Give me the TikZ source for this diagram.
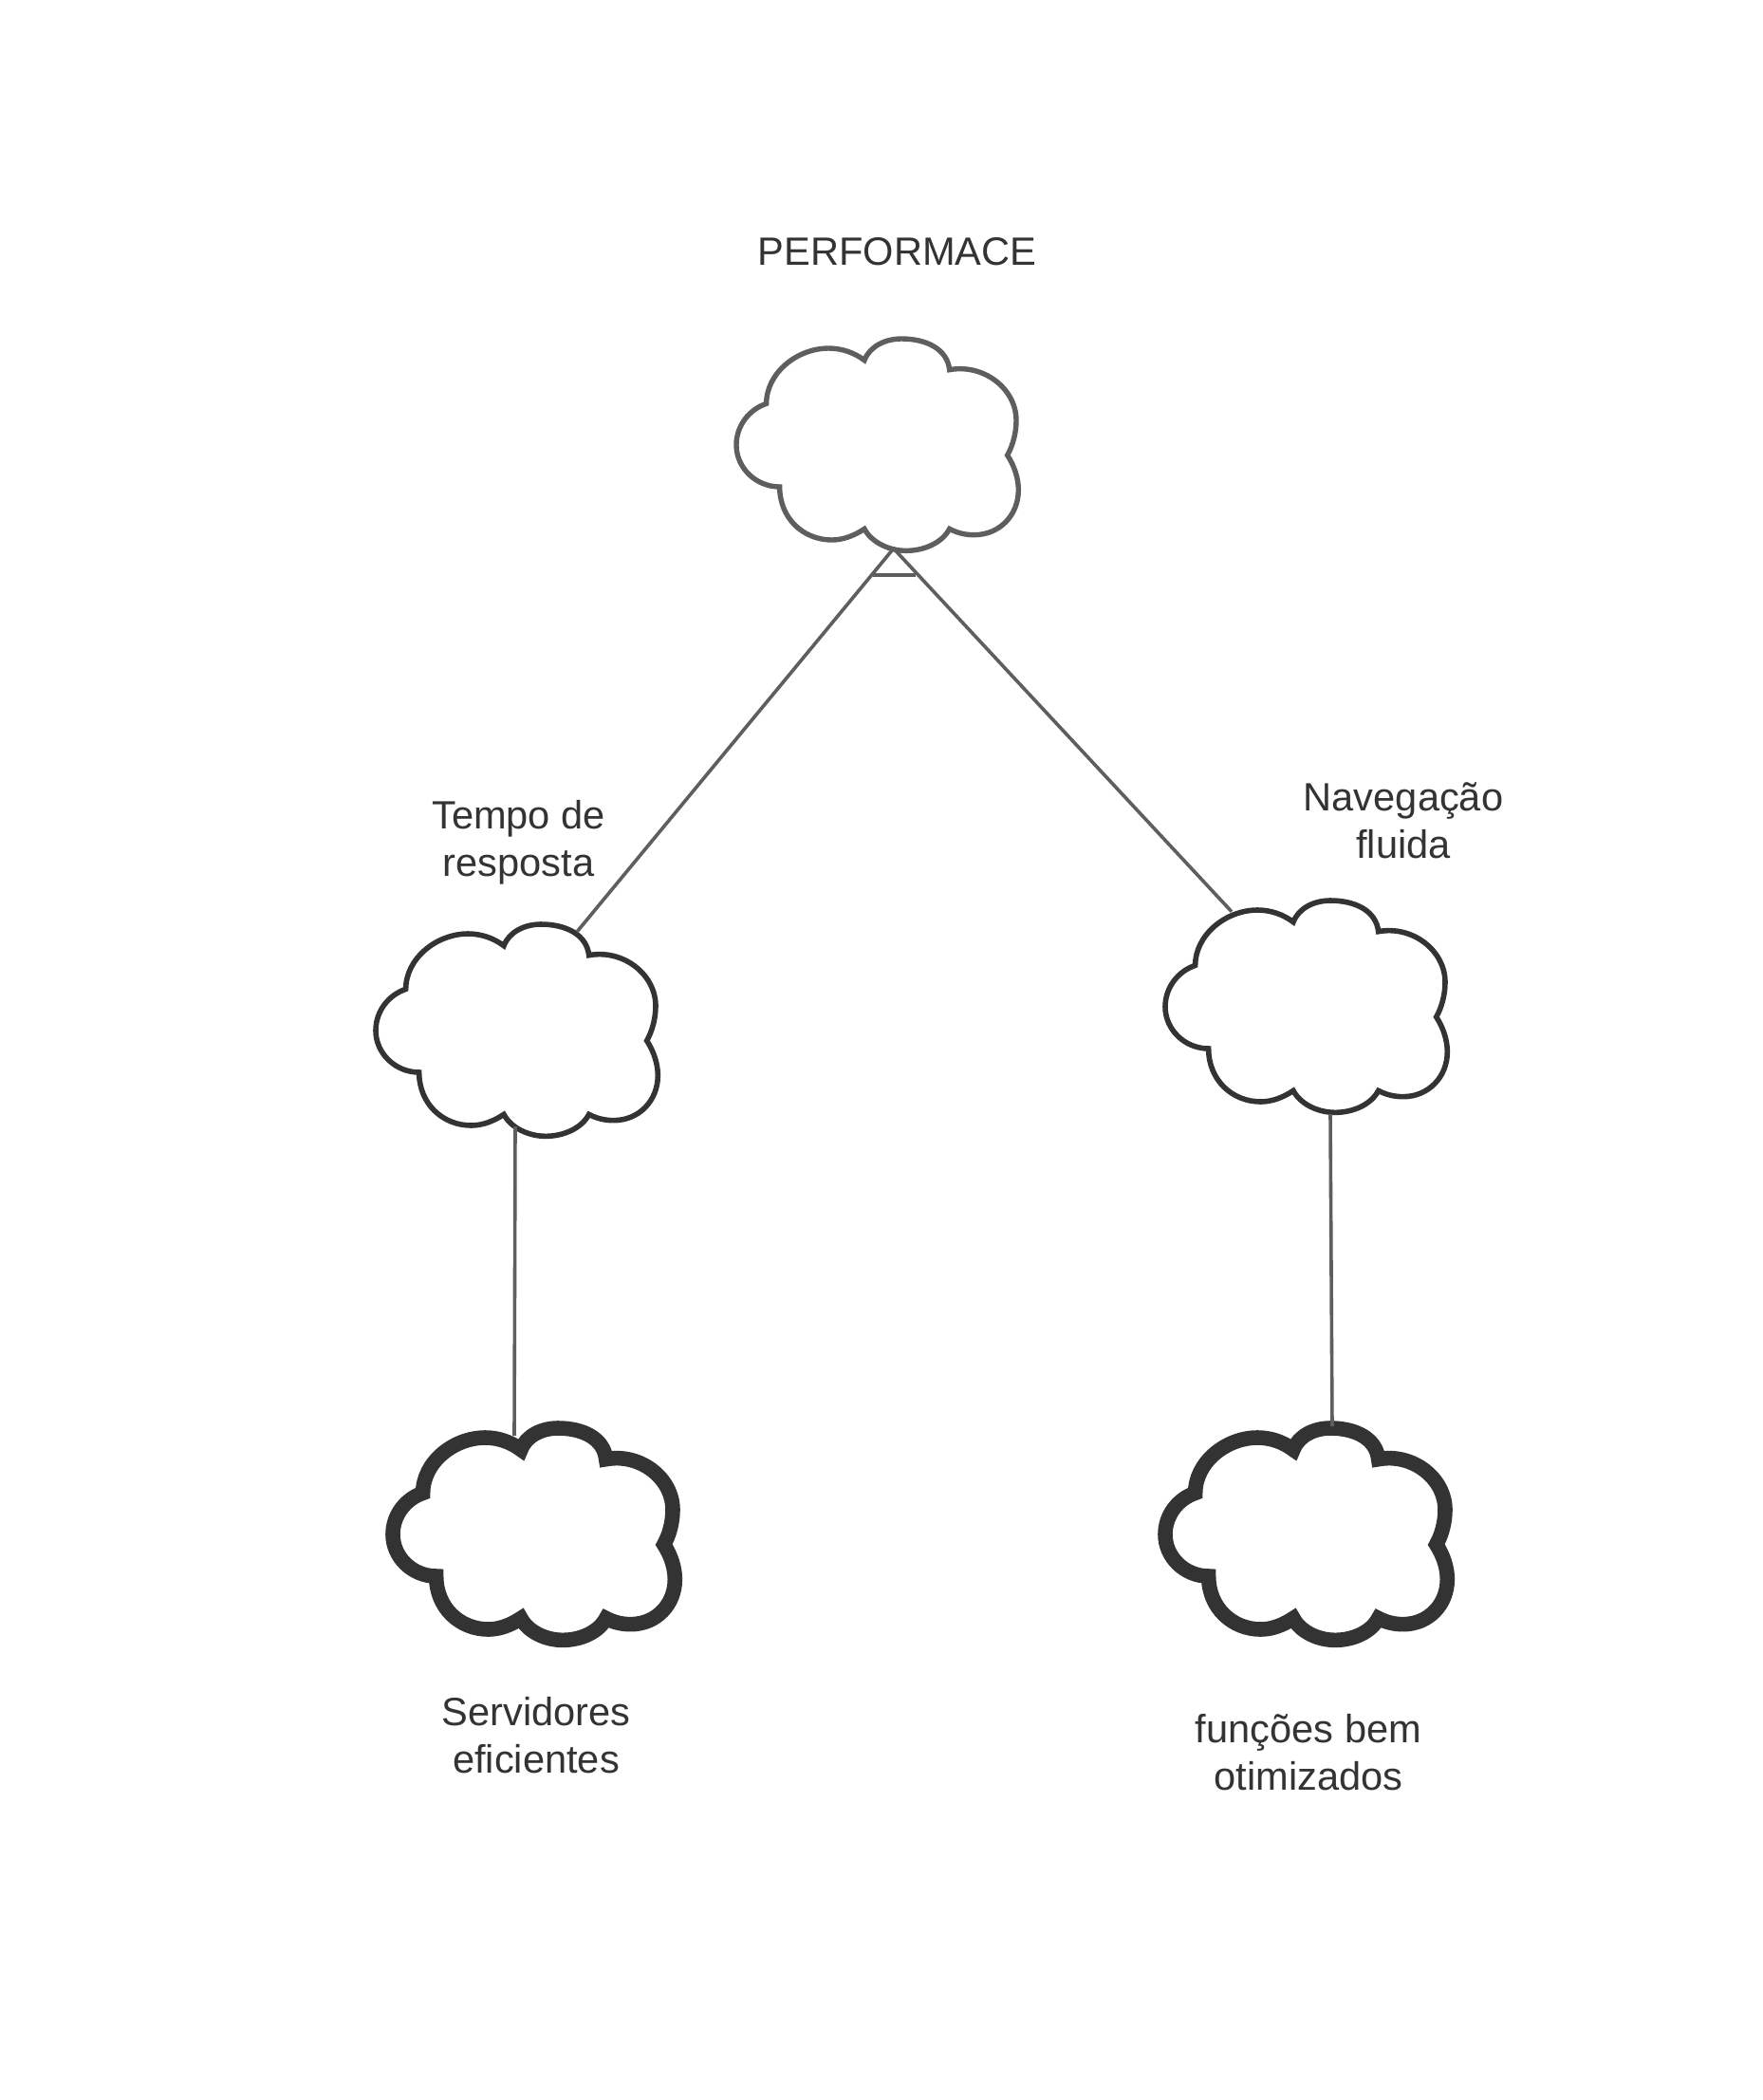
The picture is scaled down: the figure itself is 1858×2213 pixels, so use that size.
\documentclass[tikz,border=0pt]{standalone}
\usepackage{fontspec}
\setmainfont{Liberation Sans}
\usetikzlibrary{calc}
\definecolor{inkdark}{HTML}{333333}
\definecolor{inkgrey}{HTML}{5E5E5E}
\tikzset{
  cloudbox/.style={minimum width=148.5pt,minimum height=111.5pt,inner sep=0pt,outer sep=0pt},
  cloudthin/.style={draw=inkgrey,fill=white,line width=2.7pt,miter limit=10},
  cloudmid/.style={draw=inkdark,fill=white,line width=2.8pt,miter limit=10},
  cloudthick/.style={draw=inkdark,fill=white,line width=7.8pt,miter limit=10},
  link/.style={draw=inkgrey,line width=1.8pt},
  label/.style={text=inkdark,font=\fontsize{20.8}{25}\selectfont,align=center,inner sep=0pt}
}
\newcommand{\cloudat}[4]{% name, left, top, style
  \draw[#4,shift={(#2-36,#3-27.33)},scale=0.33333]
    (203,287) .. controls (203,190) and (300,112) .. (400,112)
    .. controls (440,112) and (480,125) .. (513,150)
    .. controls (530,105) and (580,82) .. (630,82)
    .. controls (710,82) and (775,115) .. (782,180)
    .. controls (890,160) and (993,240) .. (993,340)
    .. controls (993,380) and (982,420) .. (965,450)
    .. controls (988,485) and (1000,525) .. (1000,560)
    .. controls (1000,640) and (940,702) .. (860,702)
    .. controls (830,702) and (805,695) .. (782,683)
    .. controls (760,725) and (705,752) .. (645,752)
    .. controls (590,752) and (535,725) .. (513,683)
    .. controls (480,705) and (445,718) .. (410,718)
    .. controls (320,718) and (245,650) .. (245,550)
    .. controls (170,550) and (108,490) .. (108,418)
    .. controls (108,355) and (150,305) .. (203,287) -- cycle;
  \node[cloudbox] (#1) at (#2+148.5,#3+111.5) {};
}
\begin{document}
\begin{tikzpicture}[x=0.5pt,y=-0.5pt]
\useasboundingbox (0,0) rectangle (1858,2213);
\fill[white] (0,0) rectangle (1858,2213);
\cloudat{top}{776}{357}{cloudthin}
\cloudat{left}{396}{974}{cloudmid}
\cloudat{right}{1228}{949}{cloudmid}
\cloudat{botleft}{414}{1505}{cloudthick}
\cloudat{botright}{1228}{1505}{cloudthick}
% connectors
\coordinate (apex) at ([xshift=8.6pt,yshift=1pt]top.south);
\coordinate (barL) at ([xshift=-2.25pt,yshift=-13pt]top.south);
\coordinate (barR) at ([xshift=20.25pt,yshift=-13pt]top.south);
\draw[link] (apex) -- ([xshift=31.75pt,yshift=-4pt]left.north);
\draw[link] (apex) -- ([xshift=-39.25pt,yshift=-5.85pt]right.north);
\draw[link] (barL) -- (barR);
\draw[link] ([xshift=-0.75pt,yshift=5pt]left.south) -- ([xshift=-10.25pt,yshift=-4pt]botleft.north);
\draw[link] ([xshift=12.75pt,yshift=-1pt]right.south) -- ([xshift=13.75pt,yshift=1pt]botright.north);
% labels
\node[label] (tperf) at (945.5,265.5) {PERFORMACE};
\node[label] (ttempo) at (546.5,888) {Tempo de\\resposta};
\node[label] (tnav) at (1479,865) {Navegação\\fluida};
\node[label] (tserv) at (565,1829) {Servidores\\eficientes};
\node[label] (tfunc) at (1379,1847) {funções bem\\otimizados};
\end{tikzpicture}
\end{document}
